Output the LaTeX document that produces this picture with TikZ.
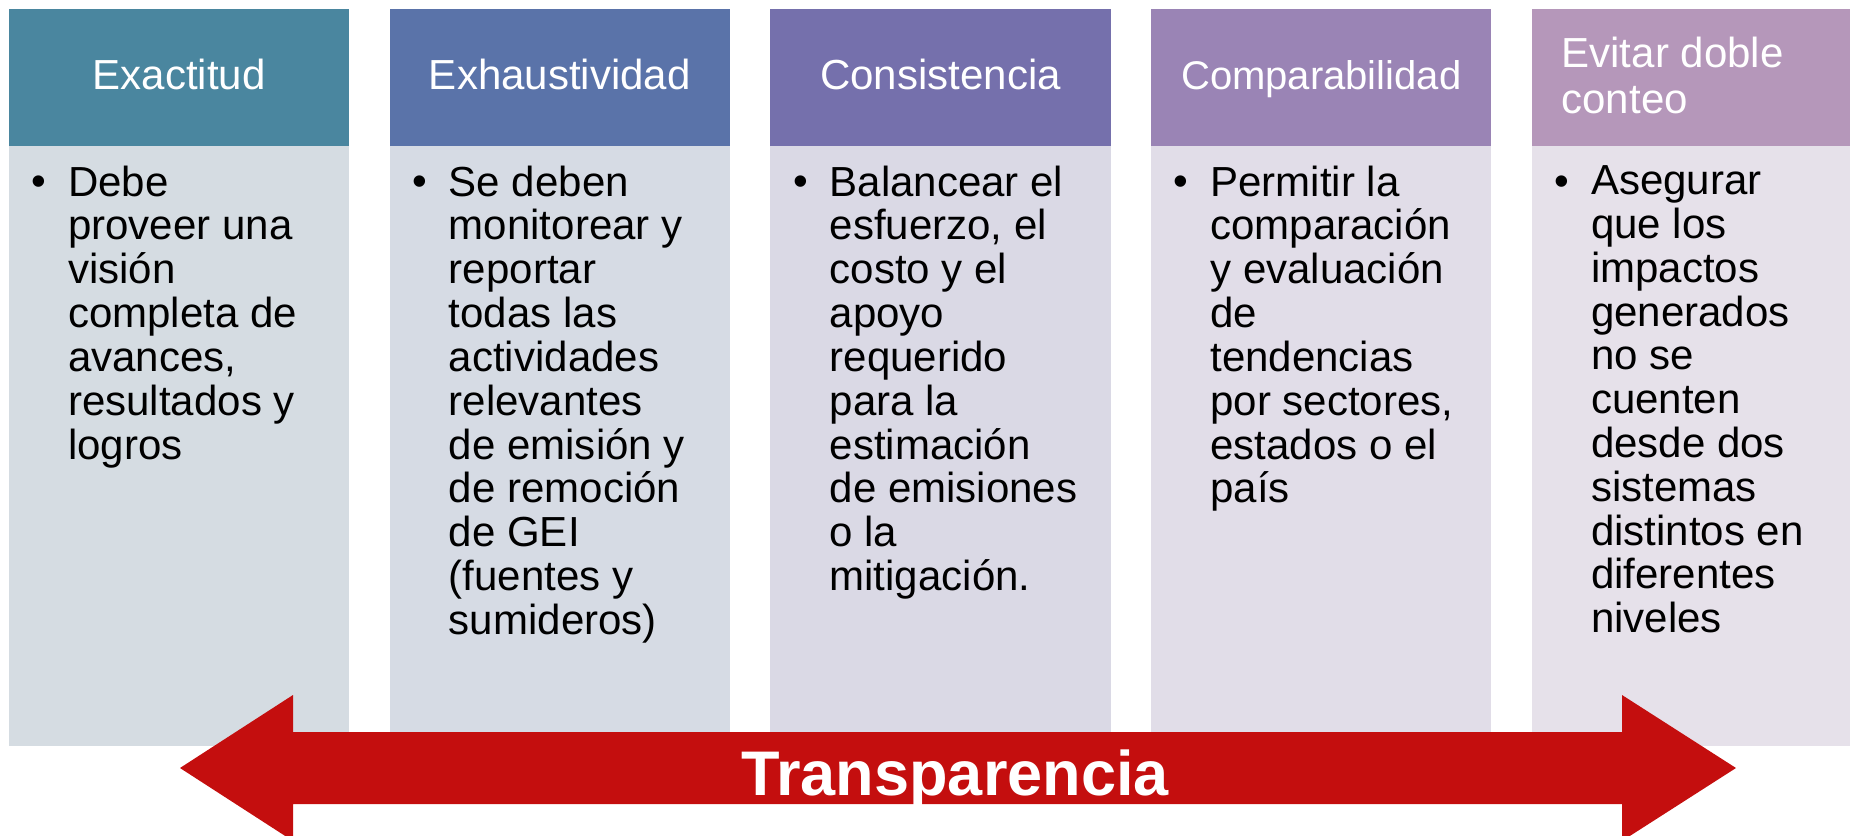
\documentclass[tikz,border=0pt]{standalone}
\usepackage{fontspec}
\setmainfont{Liberation Sans}
\usepackage{tikz}
\usetikzlibrary{positioning}
\definecolor{hdrA}{HTML}{4A869F}
\definecolor{hdrB}{HTML}{5A73A9}
\definecolor{hdrC}{HTML}{7570AC}
\definecolor{hdrD}{HTML}{9A84B5}
\definecolor{hdrE}{HTML}{B597BA}
\definecolor{bodyA}{HTML}{D5DCE2}
\definecolor{bodyB}{HTML}{D6DBE4}
\definecolor{bodyC}{HTML}{DAD9E5}
\definecolor{bodyD}{HTML}{E1DDE8}
\definecolor{bodyE}{HTML}{E6E1EA}
\definecolor{arrowred}{HTML}{C40E0E}
\tikzset{%
  hdr/.style={%
    rectangle, inner sep=0pt, outer sep=0pt, anchor=north west,
    minimum width=3.4cm, minimum height=1.37cm
  },
  body/.style={%
    rectangle, inner sep=0pt, outer sep=0pt,
    minimum width=3.4cm, minimum height=6cm
  },
  hdrtxt/.style={%
    text=white, inner sep=0pt, anchor=base,
    font=\fontsize{11.95}{13.1}\selectfont
  },
  bodytxt/.style={%
    inner sep=0pt, anchor=north west, align=left,
    font=\fontsize{11.95}{12.46}\selectfont
  },
  dot/.style={%
    inner sep=0pt, anchor=base west,
    font=\fontsize{11.95}{12.46}\selectfont
  }
}

\begin{document}
\begin{tikzpicture}[x=0.01cm,y=-0.01cm]
    \useasboundingbox (0,0) rectangle (1850,836);
    \clip (0,0) rectangle (1850,836);

    % columns
    \node[hdr, fill=hdrA] (h1) at (9,9) {};
    \node[hdr, fill=hdrB, right=0.405cm of h1] (h2) {};
    \node[hdr, fill=hdrC, right=0.405cm of h2] (h3) {};
    \node[hdr, fill=hdrD, right=0.405cm of h3] (h4) {};
    \node[hdr, fill=hdrE, right=0.405cm of h4] (h5) {};
    \node[body, fill=bodyA, below=0pt of h1] (b1) {};
    \node[body, fill=bodyB, below=0pt of h2] (b2) {};
    \node[body, fill=bodyC, below=0pt of h3] (b3) {};
    \node[body, fill=bodyD, below=0pt of h4] (b4) {};
    \node[body, fill=bodyE, below=0pt of h5] (b5) {};

    % titles
    \node[hdrtxt] (t1) at ([shift={(0,11.5)}]h1.center) {Exactitud};
    \node[hdrtxt] (t2) at ([shift={(0,11.5)}]h2.center) {Exhaustividad};
    \node[hdrtxt] (t3) at ([shift={(0,11.5)}]h3.center) {Consistencia};
    \node[hdrtxt, font=\fontsize{11.38}{13.1}\selectfont] (t4)
      at ([shift={(0,11.5)}]h4.center) {Comparabilidad};
    \node[hdrtxt, anchor=north west, align=left] (t5)
      at ([shift={(29,27)}]h5.north west) {Evitar doble\\conteo};

    % bullets
    \node[dot] (d1) at ([shift={(22,49)}]b1.north west) {•};
    \node[dot] (d2) at ([shift={(22,49)}]b2.north west) {•};
    \node[dot] (d3) at ([shift={(22,49)}]b3.north west) {•};
    \node[dot] (d4) at ([shift={(22,49)}]b4.north west) {•};
    \node[dot] (d5) at ([shift={(22,49)}]b5.north west) {•};

    \node[bodytxt] (x1) at ([shift={(58.5,18.9)}]b1.north west)
      {Debe\\proveer una\\visión\\completa de\\avances,\\resultados y\\logros};
    \node[bodytxt] (x2) at ([shift={(58.5,18.9)}]b2.north west)
      {Se deben\\monitorear y\\reportar\\todas las\\actividades\\relevantes\\de emisión y\\de remoción\\de GEI\\(fuentes y\\sumideros)};
    \node[bodytxt] (x3) at ([shift={(58.5,18.9)}]b3.north west)
      {Balancear el\\esfuerzo, el\\costo y el\\apoyo\\requerido\\para la\\estimación\\de emisiones\\o la\\mitigación.};
    \node[bodytxt] (x4) at ([shift={(58.5,18.9)}]b4.north west)
      {Permitir la\\comparación\\y evaluación\\de\\tendencias\\por sectores,\\estados o el\\país};
    \node[bodytxt] (x5) at ([shift={(58.5,18.9)}]b5.north west)
      {Asegurar\\que los\\impactos\\generados\\no se\\cuenten\\desde dos\\sistemas\\distintos en\\diferentes\\niveles};

    % double arrow
    \fill[arrowred] (180,768) -- (293,695) -- (293,732) -- (1622,732)
      -- (1622,695) -- (1736,768) -- (1622,841) -- (1622,804)
      -- (293,804) -- (293,841) -- cycle;
    \node[inner sep=0pt, anchor=base, text=white,
      font=\fontsize{17.93}{20}\selectfont\bfseries] (tr) at (955,795) {Transparencia};
\end{tikzpicture}
\end{document}
